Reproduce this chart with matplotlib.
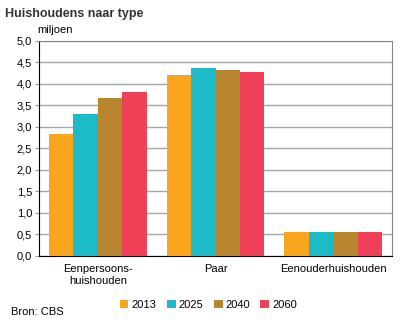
import matplotlib
matplotlib.use('Agg')
import matplotlib.pyplot as plt
import numpy as np

categories = ['Eenpersoons-\nhuishouden', 'Paar', 'Eenouderhuishouden']
years = ['2013', '2025', '2040', '2060']
values = {
    '2013': [2.83, 4.20, 0.56],
    '2025': [3.29, 4.37, 0.56],
    '2040': [3.67, 4.32, 0.56],
    '2060': [3.80, 4.27, 0.56],
}
colors = ['#F9A61E', '#1CBBC7', '#BA852F', '#EF4057']
yticks = np.arange(0, 5.01, 0.5)

plt.rcParams['font.family'] = ['Liberation Sans', 'DejaVu Sans']

fig = plt.figure(figsize=(4.01, 3.25), dpi=100)
ax = fig.add_axes([0.0973, 0.213, 0.8803, 0.662])

x = np.arange(len(categories))
w = 0.208
for i, yr in enumerate(years):
    ax.bar(x + (i - 1.5) * w, values[yr], width=w, color=colors[i], label=yr, zorder=3)

ax.set_xlim(-0.5, 2.5)
ax.set_ylim(0, 5)
ax.set_yticks(yticks)
ax.set_yticklabels([f'{v:.1f}'.replace('.', ',') for v in yticks], fontsize=8)
ax.set_xticks(x)
ax.set_xticklabels(categories, fontsize=8)
ax.tick_params(axis='x', length=0, pad=6)
ax.tick_params(axis='y', length=3, color='#999999', pad=2)
ax.grid(axis='y', color='#A6A6A6', linewidth=1, zorder=0)
for s in ['top', 'right']:
    ax.spines[s].set_color('#888888')
for s in ['left', 'bottom']:
    ax.spines[s].set_color('black')

fig.text(0.012, 0.975, 'Huishoudens naar type', fontsize=9, fontweight='bold',
         color='#333333', va='top')
fig.text(0.093, 0.893, 'miljoen', fontsize=8, va='bottom')
fig.text(0.027, 0.025, 'Bron: CBS', fontsize=8, va='bottom')

fig.legend(loc='center', bbox_to_anchor=(0.52, 0.062), ncol=4, fontsize=8,
           frameon=False, handlelength=0.8, handleheight=0.8, handletextpad=0.3,
           columnspacing=0.9)

fig.savefig('out.png', dpi=100)
